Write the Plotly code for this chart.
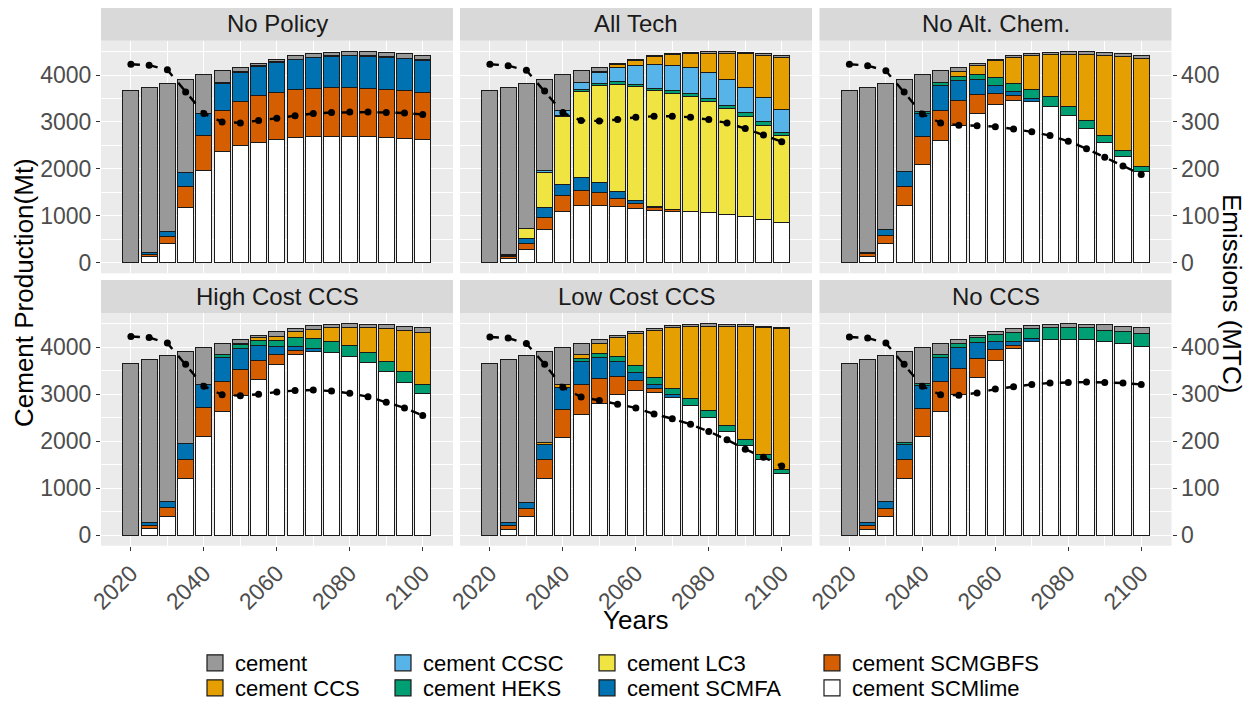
import plotly.graph_objects as go

# ---------------- data ----------------
years = [2020, 2025, 2030, 2035, 2040, 2045, 2050, 2055, 2060,
         2065, 2070, 2075, 2080, 2085, 2090, 2095, 2100]

scenarios = ["No Policy", "All Tech", "No Alt. Chem.",
             "High Cost CCS", "Low Cost CCS", "No CCS"]

# stacking order bottom -> top
series = ["cement SCMlime", "cement SCMGBFS", "cement SCMFA", "cement LC3",
          "cement HEKS", "cement CCSC", "cement CCS", "cement"]

colors = {
    "cement": "#999999",
    "cement CCS": "#E69F00",
    "cement CCSC": "#56B4E9",
    "cement HEKS": "#009E73",
    "cement LC3": "#F0E442",
    "cement SCMFA": "#0072B2",
    "cement SCMGBFS": "#D55E00",
    "cement SCMlime": "#FFFFFF",
}

Z = [0] * 17

no_policy = {
    "cement SCMlime": [0, 140, 420, 1175, 1972, 2364, 2499, 2570, 2627, 2663, 2684, 2698, 2698, 2684, 2663, 2642, 2627],
    "cement SCMGBFS": [0, 45, 142, 456, 740, 883, 947, 990, 1004, 1018, 1032, 1032, 1032, 1025, 1032, 1032, 1004],
    "cement SCMFA": [0, 30, 114, 292, 470, 577, 612, 619, 634, 641, 648, 669, 676, 683, 676, 669, 676],
    "cement LC3": Z,
    "cement HEKS": [0, 0, 0, 0, 0, 15, 15, 15, 15, 15, 15, 15, 15, 15, 15, 15, 15],
    "cement CCSC": Z,
    "cement CCS": Z,
    "cement": [3660, 3520, 3147, 1989, 819, 248, 92, 57, 56, 71, 85, 76, 82, 88, 92, 94, 103],
}

all_tech = {
    "cement SCMlime": [0, 100, 292, 712, 1082, 1225, 1225, 1189, 1146, 1118, 1096, 1082, 1068, 1032, 983, 918, 854],
    "cement SCMGBFS": [0, 40, 121, 249, 342, 320, 270, 185, 107, 60, 30, 0, 0, 0, 0, 0, 0],
    "cement SCMFA": [0, 25, 93, 206, 249, 270, 206, 135, 71, 25, 13, 0, 0, 0, 0, 0, 0],
    "cement LC3": [0, 0, 214, 748, 1438, 1830, 2086, 2293, 2421, 2463, 2471, 2456, 2378, 2257, 2143, 2001, 1851],
    "cement HEKS": [0, 20, 0, 0, 21, 36, 36, 57, 57, 57, 57, 71, 57, 71, 71, 85, 71],
    "cement CCSC": [0, 0, 0, 57, 107, 164, 235, 306, 399, 491, 527, 555, 555, 555, 541, 513, 491],
    "cement CCS": [0, 0, 0, 0, 0, 0, 20, 64, 107, 180, 249, 299, 406, 548, 712, 904, 1111],
    "cement": [3660, 3550, 3103, 1940, 762, 242, 87, 22, 28, 14, 21, 27, 39, 32, 28, 31, 47],
}

no_alt_chem = {
    "cement SCMlime": [0, 142, 406, 1210, 2093, 2613, 2919, 3183, 3382, 3467, 3446, 3339, 3133, 2862, 2563, 2257, 1937],
    "cement SCMGBFS": [0, 50, 164, 406, 605, 641, 548, 392, 228, 93, 0, 0, 0, 0, 0, 0, 0],
    "cement SCMFA": [0, 25, 135, 320, 484, 513, 427, 320, 171, 85, 57, 0, 0, 0, 0, 0, 0],
    "cement LC3": Z,
    "cement HEKS": [0, 0, 0, 0, 50, 71, 71, 121, 171, 178, 192, 199, 192, 178, 157, 142, 121],
    "cement CCSC": Z,
    "cement CCS": [0, 0, 0, 0, 0, 0, 100, 185, 349, 555, 719, 890, 1111, 1396, 1702, 1994, 2300],
    "cement": [3660, 3518, 3118, 1976, 769, 249, 100, 50, 35, 30, 50, 62, 67, 59, 56, 59, 67],
}

high_cost_ccs = {
    "cement SCMlime": [0, 142, 406, 1196, 2100, 2627, 2976, 3325, 3631, 3838, 3916, 3895, 3809, 3667, 3482, 3261, 3012],
    "cement SCMGBFS": [0, 71, 178, 420, 619, 648, 562, 399, 214, 100, 0, 0, 0, 0, 0, 0, 0],
    "cement SCMFA": [0, 50, 128, 342, 484, 498, 427, 313, 178, 71, 50, 0, 0, 0, 0, 0, 0],
    "cement LC3": Z,
    "cement HEKS": [0, 0, 0, 0, 0, 71, 93, 114, 128, 192, 214, 235, 228, 214, 206, 214, 199],
    "cement CCSC": Z,
    "cement CCS": [0, 0, 0, 0, 0, 0, 20, 64, 85, 135, 199, 285, 392, 534, 705, 890, 1111],
    "cement": [3660, 3472, 3111, 1954, 798, 243, 87, 36, 100, 72, 85, 75, 74, 80, 85, 87, 103],
}

low_cost_ccs = {
    "cement SCMlime": [0, 128, 406, 1196, 2079, 2563, 2812, 3005, 3076, 3040, 2933, 2763, 2506, 2207, 1901, 1602, 1317],
    "cement SCMGBFS": [0, 85, 164, 406, 605, 641, 534, 377, 221, 85, 0, 0, 0, 0, 0, 0, 0],
    "cement SCMFA": [0, 57, 135, 320, 463, 498, 427, 306, 171, 78, 57, 0, 0, 0, 0, 0, 0],
    "cement LC3": Z,
    "cement HEKS": [0, 0, 0, 0, 0, 50, 93, 114, 142, 150, 142, 157, 150, 128, 128, 107, 85],
    "cement CCSC": Z,
    "cement CCS": [0, 0, 0, 50, 64, 93, 214, 399, 684, 1011, 1282, 1531, 1794, 2115, 2407, 2706, 2990],
    "cement": [3660, 3465, 3118, 1940, 790, 242, 85, 50, 42, 44, 50, 39, 53, 45, 42, 37, 33],
}

no_ccs = {
    "cement SCMlime": [0, 128, 406, 1196, 2100, 2634, 3005, 3361, 3717, 3973, 4115, 4165, 4172, 4158, 4122, 4080, 4023],
    "cement SCMGBFS": [0, 85, 164, 420, 605, 641, 541, 399, 228, 71, 0, 0, 0, 0, 0, 0, 0],
    "cement SCMFA": [0, 57, 142, 320, 477, 498, 441, 335, 171, 71, 64, 0, 0, 0, 0, 0, 0],
    "cement LC3": Z,
    "cement HEKS": [0, 0, 0, 36, 43, 71, 93, 121, 157, 206, 214, 249, 256, 256, 242, 249, 263],
    "cement CCSC": Z,
    "cement CCS": Z,
    "cement": [3660, 3465, 3111, 1940, 776, 243, 85, 35, 63, 87, 71, 76, 75, 81, 114, 123, 139],
}

# emissions (MTC), right axis
emis_no_policy = [423, 421, 411, 364, 318, 300, 298, 303, 308, 313, 318, 320, 321, 321, 320, 319, 316]
emis_all_tech = [423, 420, 410, 366, 320, 303, 302, 305, 310, 312, 312, 310, 305, 298, 286, 272, 258]
emis_no_alt_chem = [423, 420, 409, 364, 317, 298, 293, 292, 290, 285, 279, 271, 259, 243, 225, 206, 188]
emis_high_cost_ccs = [423, 421, 409, 364, 317, 299, 297, 300, 305, 308, 309, 307, 302, 295, 283, 271, 255]
emis_low_cost_ccs = [422, 420, 408, 364, 315, 294, 287, 279, 271, 258, 248, 236, 221, 203, 183, 166, 147]
emis_no_ccs = [422, 420, 409, 364, 317, 299, 298, 303, 311, 316, 321, 324, 325, 326, 325, 324, 321]

x_ticks = [2020, 2040, 2060, 2080, 2100]
y_ticks = [0, 1000, 2000, 3000, 4000]
y2_ticks = [0, 100, 200, 300, 400]

# --------------- figure ---------------
production = [no_policy, all_tech, no_alt_chem, high_cost_ccs, low_cost_ccs, no_ccs]
emissions = [emis_no_policy, emis_all_tech, emis_no_alt_chem,
             emis_high_cost_ccs, emis_low_cost_ccs, emis_no_ccs]

# legend placement (two rows as two legends, ggplot column order)
legend_row = {"cement": "legend", "cement CCSC": "legend", "cement LC3": "legend",
              "cement SCMGBFS": "legend", "cement CCS": "legend2", "cement HEKS": "legend2",
              "cement SCMFA": "legend2", "cement SCMlime": "legend2"}
legend_w = {"cement": 143, "cement CCS": 143, "cement CCSC": 159, "cement HEKS": 159,
            "cement LC3": 180, "cement SCMFA": 180, "cement SCMGBFS": 200, "cement SCMlime": 200}

# The page body has an 8px margin: figure is sized to sit inside the window.
OFF = 8
W, H = 1251 - OFF, 702 - OFF


def px(x):
    return (x - OFF) / W


def py(y):
    return 1 - (y - OFF) / H


col_left = [101, 460, 819.5]
panel_w = 352
row_px = [(41, 273.3), (313.3, 545.7)]
strip_px = [(6.7, 40.7), (280, 313.3)]

FONT = "Liberation Sans, Arial, sans-serif"
TICKFONT = dict(family=FONT, size=23, color="#4D4D4D")
EDGE = dict(color="#1A1A1A", width=1.0)

fig = go.Figure()
layout = dict()
shapes = []
annotations = []

for i in range(6):
    k = i + 1
    row, col = divmod(i, 3)
    data = production[i]
    for name in series:
        vals = [v if v != 0 else None for v in data[name]]
        fig.add_trace(go.Bar(
            x=years, y=vals, name=name, width=4.4,
            marker=dict(color=colors[name], line=EDGE),
            xaxis=f"x{k}", yaxis=f"y{k}",
            legendgroup=name, showlegend=False,
            hoverinfo="skip",
        ))
    fig.add_trace(go.Scatter(
        x=years, y=emissions[i], mode="lines+markers",
        line=dict(color="black", width=2.4, dash="dash"),
        marker=dict(color="black", size=7),
        xaxis=f"x{k}", yaxis=f"y{k + 6}", showlegend=False, hoverinfo="skip",
    ))

    x0 = px(col_left[col])
    x1 = px(col_left[col] + panel_w)
    ytop, ybot = row_px[row]
    sfx = "" if k == 1 else str(k)
    layout[f"xaxis{sfx}"] = dict(
        domain=[x0, x1], anchor=f"y{k}", range=[2011.8, 2108.3],
        tickvals=x_ticks, ticktext=[str(v) for v in x_ticks],
        showticklabels=(row == 1), ticks="outside" if row == 1 else "",
        ticklen=4, tickwidth=1, tickcolor="#333333", tickangle=-45,
        tickfont=TICKFONT, showgrid=True, gridcolor="white", gridwidth=1.2,
        zeroline=False, showline=False, automargin=False,
        minor=dict(tickvals=[2030, 2050, 2070, 2090], showgrid=True,
                   gridcolor="white", gridwidth=0.6, ticks=""),
    )
    layout[f"yaxis{sfx}"] = dict(
        domain=[py(ybot), py(ytop)], anchor=f"x{k}", range=[-225, 4725],
        tickvals=y_ticks, showticklabels=(col == 0),
        ticks="outside" if col == 0 else "", ticklen=4, tickwidth=1, tickcolor="#333333",
        tickfont=TICKFONT, showgrid=True, gridcolor="white", gridwidth=1.2,
        zeroline=False, showline=False, automargin=False,
        minor=dict(tickvals=[500, 1500, 2500, 3500, 4500], showgrid=True,
                   gridcolor="white", gridwidth=0.6, ticks=""),
    )
    layout[f"yaxis{k + 6}"] = dict(
        overlaying=f"y{k}", anchor=f"x{k}", side="right", range=[-22.5, 472.5],
        tickvals=y2_ticks, showticklabels=(col == 2),
        ticks="outside" if col == 2 else "", ticklen=4, tickwidth=1, tickcolor="#333333",
        tickfont=TICKFONT, showgrid=False, zeroline=False, showline=False, automargin=False,
    )

    # facet strip
    sy0, sy1 = strip_px[row]
    shapes.append(dict(type="rect", xref="paper", yref="paper",
                       x0=x0, x1=x1, y0=py(sy1), y1=py(sy0),
                       fillcolor="#D9D9D9", line=dict(width=0), layer="below"))
    annotations.append(dict(text=scenarios[i], xref="paper", yref="paper",
                            x=(x0 + x1) / 2, y=py((sy0 + sy1) / 2),
                            xanchor="center", yanchor="middle", showarrow=False,
                            font=dict(family=FONT, size=24, color="#1A1A1A")))

# legend keys (larger square swatches, like ggplot's legend keys)
for name in series:
    fig.add_trace(go.Scatter(
        x=[None], y=[None], mode="markers", name=name,
        marker=dict(symbol="square", size=16, color=colors[name],
                    line=dict(color="#1A1A1A", width=1.2)),
        xaxis="x", yaxis="y", legendgroup=name, showlegend=True,
        legend=legend_row[name], legendwidth=legend_w[name], hoverinfo="skip",
    ))

TITLEFONT = dict(family=FONT, size=26, color="black")
annotations += [
    dict(text="Cement Production(Mt)", xref="paper", yref="paper", x=px(24), y=py(293),
         textangle=-90, showarrow=False, xanchor="center", yanchor="middle", font=TITLEFONT),
    dict(text="Emissions (MTC)", xref="paper", yref="paper", x=px(1232), y=py(293),
         textangle=90, showarrow=False, xanchor="center", yanchor="middle", font=TITLEFONT),
    dict(text="Years", xref="paper", yref="paper", x=px(636), y=py(620),
         showarrow=False, xanchor="center", yanchor="middle", font=TITLEFONT),
]

LEGFONT = dict(family=FONT, size=22, color="black")
fig.update_layout(
    **layout,
    width=W, height=H, margin=dict(l=0, r=0, t=0, b=0, autoexpand=False),
    barmode="stack", plot_bgcolor="#EBEBEB", paper_bgcolor="white",
    font=dict(family=FONT),
    shapes=shapes, annotations=annotations,
    legend=dict(orientation="h", x=px(195), y=py(663), xanchor="left", yanchor="middle",
                traceorder="reversed", font=LEGFONT, bgcolor="rgba(0,0,0,0)",
                itemclick=False, itemdoubleclick=False),
    legend2=dict(orientation="h", x=px(195), y=py(688), xanchor="left", yanchor="middle",
                 traceorder="reversed", font=LEGFONT, bgcolor="rgba(0,0,0,0)",
                 itemclick=False, itemdoubleclick=False),
)

fig.write_html("out.html")
